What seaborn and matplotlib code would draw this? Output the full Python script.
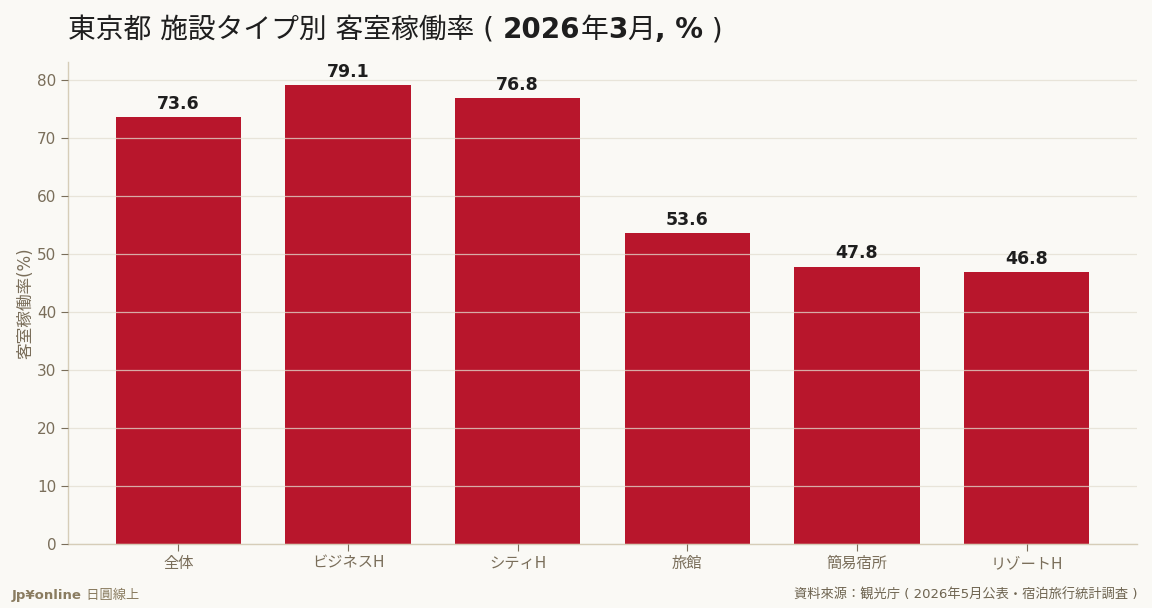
import matplotlib
matplotlib.use("Agg")
import matplotlib.pyplot as plt
import seaborn as sns
import pandas as pd
from matplotlib.transforms import offset_copy

categories = ["全体", "ビジネスH", "シティH", "旅館", "簡易宿所", "リゾートH"]
values = [73.6, 79.1, 76.8, 53.6, 47.8, 46.8]
yticks = [0, 10, 20, 30, 40, 50, 60, 70, 80]

BG = "#faf9f5"
BAR = "#b8162c"
TXT = "#7a6e5a"
GRID = "#e3ded0"
SPINE = "#d6cdb8"

sns.set_theme(style="white")
plt.rcParams["font.family"] = ["DejaVu Sans", "Noto Sans CJK JP"]

df = pd.DataFrame({"cat": categories, "val": values})

fig = plt.figure(figsize=(11.52, 6.08), dpi=100, facecolor=BG)
ax = fig.add_axes([68 / 1152, 1 - 544 / 608, (1137 - 68) / 1152, (544 - 62) / 608])
ax.set_facecolor(BG)

sns.barplot(data=df, x="cat", y="val", color=BAR, width=0.737, saturation=1,
            linewidth=0, ax=ax)

ax.set_xlim(-0.65, 5.65)
ax.set_ylim(0, max(values) * 1.05)
ax.set_yticks(yticks)
ax.grid(axis="y", color=GRID, linewidth=0.9, alpha=0.75)
ax.grid(axis="x", visible=False)
ax.set_axisbelow(False)

for s in ["top", "right"]:
    ax.spines[s].set_visible(False)
for s in ["left", "bottom"]:
    ax.spines[s].set_color(SPINE)
    ax.spines[s].set_linewidth(1.0)

ax.tick_params(axis="both", colors=TXT, labelsize=11, length=5, width=0.8, left=True, bottom=True)
for lbl in ax.get_xticklabels() + ax.get_yticklabels():
    lbl.set_color(TXT)
ax.set_xlabel("")
ax.set_ylabel("客室稼働率(%)", color=TXT, fontsize=12, labelpad=1.5)

for i, v in enumerate(values):
    ax.annotate(f"{v:.1f}", (i, v), xytext=(0, 3), textcoords="offset points",
                ha="center", va="bottom", fontsize=12.5, fontweight="bold", color="#1e1e1e")

# Title with mixed weight
renderer = fig.canvas.get_renderer()
parts = [("東京都 施設タイプ別 客室稼働率 ( ", "normal"), ("2026", "bold"), ("年", "normal"),
         ("3", "bold"), ("月", "normal"), (", %", "bold"), (" )", "normal")]
x0 = 68 / 1152
y0 = 1 - 38 / 608
offset = 0.0
for txt, w in parts:
    t = fig.text(x0, y0, txt, fontsize=20, fontweight=w, color="#1e1e1e",
                 ha="left", va="baseline",
                 transform=offset_copy(fig.transFigure, fig=fig, x=offset, y=0, units="dots"))
    bb = t.get_window_extent(renderer)
    offset += bb.width

# Footer
t1 = fig.text(12 / 1152, 1 - 599 / 608, "Jp¥online", fontsize=9.5, fontweight="bold",
              color="#8a7c60", ha="left", va="baseline")
w1 = t1.get_window_extent(renderer).width
fig.text(12 / 1152, 1 - 599 / 608, " 日圓線上", fontsize=9.5, color="#8a7c60",
         ha="left", va="baseline",
         transform=offset_copy(fig.transFigure, fig=fig, x=w1, y=0, units="dots"))
fig.text(1137 / 1152, 1 - 599 / 608, "資料來源：観光庁 ( 2026年5月公表・宿泊旅行統計調査 )",
         fontsize=9.5, color="#6e6450", ha="right", va="baseline")

fig.savefig("out.png", dpi=100, facecolor=BG)
